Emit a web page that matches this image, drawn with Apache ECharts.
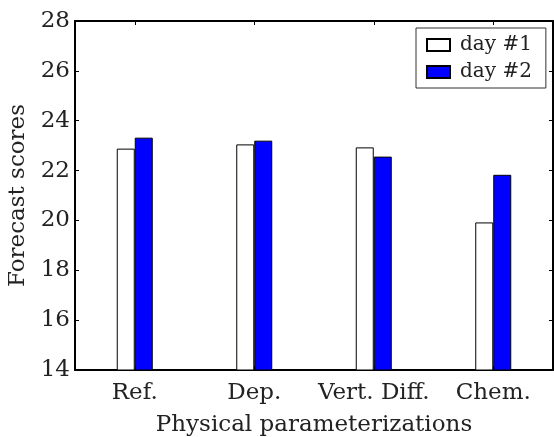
<!DOCTYPE html>
<html>
<head>
<meta charset="utf-8">
<script src="https://cdn.jsdelivr.net/npm/echarts@6/dist/echarts.min.js"></script>
<style>
  html, body { margin: 0; padding: 0; background: #fff; }
  #chart { width: 554px; height: 437px; }
</style>
</head>
<body>
<div id="chart"></div>
<script>
// Forecast scores per physical parameterization, for two forecast days
const categories = ['Ref.', 'Dep.', 'Vert. Diff.', 'Chem.'];
const day1 = [22.88, 23.05, 22.93, 19.92];
const day2 = [23.32, 23.20, 22.56, 21.83];
const seriesNames = ['day #1', 'day #2'];
const yTicks = [14, 16, 18, 20, 22, 24, 26, 28];

const FONT = 'DejaVu Serif';
const TEXT = '#222';

const chart = echarts.init(document.getElementById('chart'), null, { renderer: 'canvas' });

const tickInside = { show: true, inside: true, length: 4, lineStyle: { color: '#000', width: 1 } };

chart.setOption({
  animation: false,
  backgroundColor: '#fff',
  textStyle: { fontFamily: FONT, color: TEXT },
  grid: { left: 75, top: 21, width: 478, height: 349, containLabel: false, outerBoundsMode: 'none' },
  legend: {
    data: seriesNames.map(n => ({ name: n, icon: 'rect' })),
    orient: 'vertical',
    left: 416,
    top: 28,
    padding: [7, 14, 6, 10],
    itemWidth: 23,
    itemHeight: 12,
    itemGap: 7,
    borderColor: '#333',
    borderWidth: 1,
    backgroundColor: '#fff',
    textStyle: { fontFamily: FONT, fontSize: 20, color: TEXT, lineHeight: 20, padding: [0, 0, 0, 5] }
  },
  xAxis: [
    {
      type: 'category',
      data: categories,
      position: 'bottom',
      boundaryGap: true,
      axisLine: { show: true, lineStyle: { color: '#000', width: 2 } },
      axisTick: Object.assign({ alignWithLabel: true }, tickInside),
      axisLabel: { fontFamily: FONT, fontSize: 23, color: TEXT, margin: 12, interval: 0 },
      name: 'Physical parameterizations',
      nameLocation: 'middle',
      nameGap: 44,
      nameTextStyle: { fontFamily: FONT, fontSize: 23, color: TEXT },
      splitLine: { show: false }
    },
    {
      type: 'category',
      data: categories,
      position: 'top',
      boundaryGap: true,
      axisLine: { show: true, lineStyle: { color: '#000', width: 2 } },
      axisTick: Object.assign({ alignWithLabel: true }, tickInside),
      axisLabel: { show: false },
      splitLine: { show: false }
    }
  ],
  yAxis: [
    {
      type: 'value',
      min: 14,
      max: 28,
      interval: 2,
      position: 'left',
      axisLine: { show: true, lineStyle: { color: '#000', width: 2 } },
      axisTick: tickInside,
      axisLabel: {
        fontFamily: FONT, fontSize: 23, color: TEXT, margin: 5,
        formatter: v => (yTicks.indexOf(v) >= 0 ? String(v) : '')
      },
      splitLine: { show: false },
      name: 'Forecast scores',
      nameLocation: 'middle',
      nameGap: 44,
      nameTextStyle: { fontFamily: FONT, fontSize: 23, color: TEXT }
    },
    {
      type: 'value',
      min: 14,
      max: 28,
      interval: 2,
      position: 'right',
      axisLine: { show: true, lineStyle: { color: '#000', width: 2 } },
      axisTick: tickInside,
      axisLabel: { show: false },
      splitLine: { show: false }
    }
  ],
  series: [
    {
      name: seriesNames[0],
      type: 'bar',
      data: day1,
      barWidth: 18,
      barGap: '0%',
      itemStyle: { color: '#ffffff', borderColor: '#000', borderWidth: 1 },
      z: 1
    },
    {
      name: seriesNames[1],
      type: 'bar',
      data: day2,
      barWidth: 18,
      barGap: '0%',
      itemStyle: { color: '#0000ff', borderColor: '#000', borderWidth: 1 },
      z: 1
    }
  ]
});
</script>
</body>
</html>
